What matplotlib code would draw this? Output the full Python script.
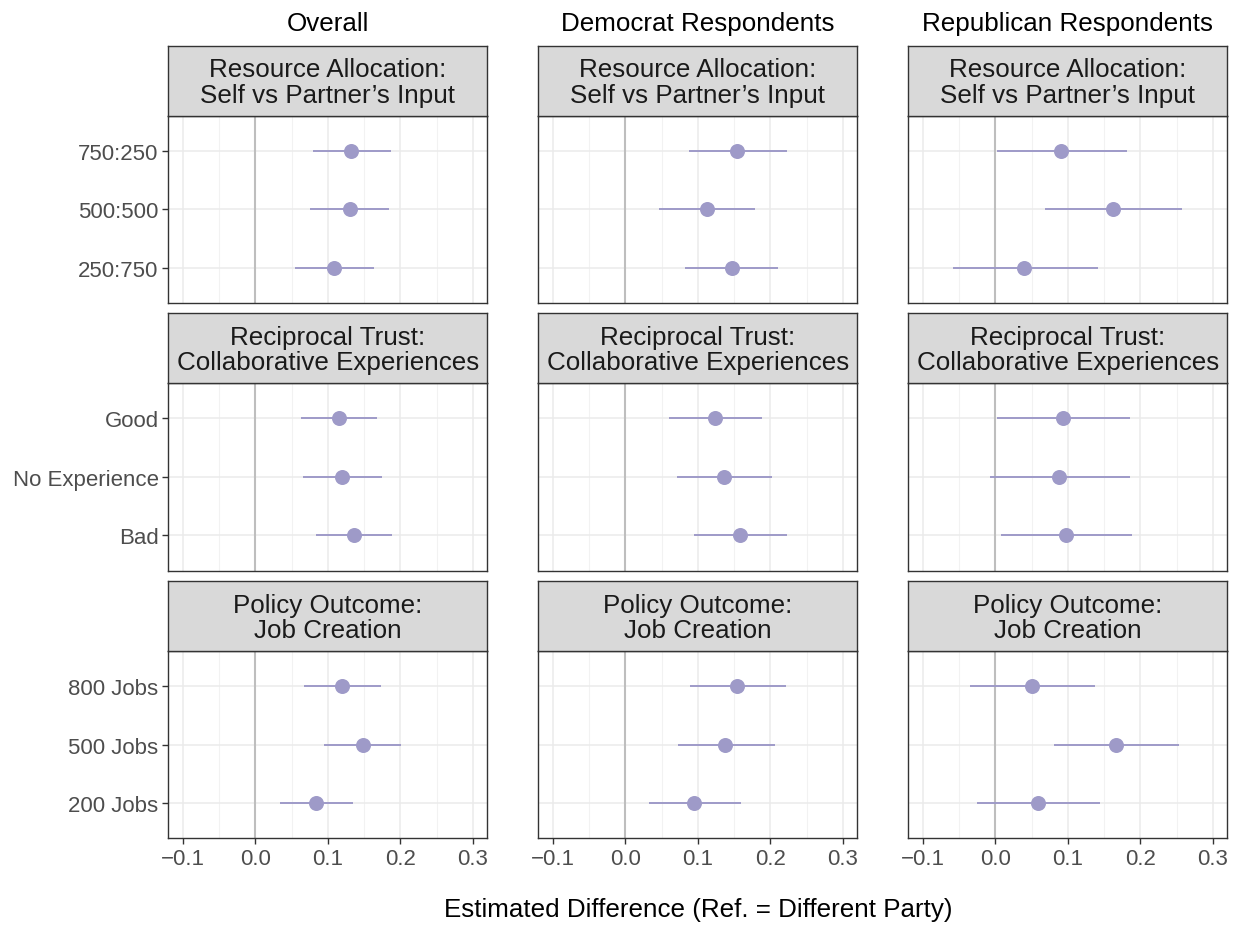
import matplotlib
matplotlib.use("Agg")
import matplotlib.pyplot as plt
import numpy as np

plt.rcParams['font.family'] = ['Liberation Sans', 'DejaVu Sans']

columns = ["Overall", "Democrat Respondents", "Republican Respondents"]
facets = ["Resource Allocation:\nSelf vs Partner\u2019s Input",
          "Reciprocal Trust:\nCollaborative Experiences",
          "Policy Outcome:\nJob Creation"]
# levels listed bottom -> top
levels = [["250:750", "500:500", "750:250"],
          ["Bad", "No Experience", "Good"],
          ["200 Jobs", "500 Jobs", "800 Jobs"]]

# estimates [row][col][level bottom->top]
est = [
    [[0.109, 0.130, 0.132], [0.147, 0.112, 0.154], [0.040, 0.162, 0.091]],
    [[0.136, 0.120, 0.115], [0.158, 0.136, 0.124], [0.097, 0.088, 0.093]],
    [[0.084, 0.148, 0.120], [0.095, 0.138, 0.154], [0.059, 0.167, 0.050]],
]
lo = [
    [[0.055, 0.076, 0.080], [0.083, 0.047, 0.088], [-0.058, 0.069, 0.002]],
    [[0.084, 0.066, 0.063], [0.095, 0.071, 0.060], [0.008, -0.007, 0.002]],
    [[0.034, 0.095, 0.067], [0.033, 0.072, 0.089], [-0.025, 0.081, -0.035]],
]
hi = [
    [[0.164, 0.185, 0.187], [0.211, 0.179, 0.223], [0.141, 0.258, 0.182]],
    [[0.189, 0.175, 0.168], [0.223, 0.203, 0.189], [0.188, 0.186, 0.186]],
    [[0.135, 0.201, 0.173], [0.159, 0.206, 0.221], [0.145, 0.254, 0.137]],
]

xticks = [-0.1, 0.0, 0.1, 0.2, 0.3]
xminor = [-0.05, 0.05, 0.15, 0.25]

W, H = 1241, 929
fig = plt.figure(figsize=(W / 100, H / 100), dpi=100)

col_left = [168.3, 538.3, 908.3]
col_w = 319.0
row_top = [116.7, 384.3, 652.0]
row_h = 187.3
strip_h = 70.0

pt_color = "#9E9AC8"
frame = "#333333"

for r in range(3):
    for c in range(3):
        l = col_left[c]
        t = row_top[r]
        ax = fig.add_axes([l / W, (H - t - row_h) / H, col_w / W, row_h / H])
        ax.set_xlim(-0.12, 0.32)
        ax.set_ylim(0.4, 3.6)
        ax.set_xticks(xticks)
        ax.set_xticks(xminor, minor=True)
        ax.set_yticks([1, 2, 3])
        ax.grid(True, which='major', color="#EBEBEB", linewidth=1.1, zorder=0)
        ax.grid(True, which='minor', axis='x', color="#F2F2F2", linewidth=0.8, zorder=0)
        ax.set_axisbelow(True)
        ax.axvline(0, color="#BEBEBE", linewidth=1.5, zorder=1)
        y = np.arange(1, 4)
        ax.hlines(y, lo[r][c], hi[r][c], color=pt_color, linewidth=1.4, zorder=2)
        ax.plot(est[r][c], y, 'o', color=pt_color, markersize=10.8, zorder=3,
                markeredgewidth=0)
        for s in ax.spines.values():
            s.set_color(frame)
            s.set_linewidth(1.0)
        ax.tick_params(which='major', length=4, width=1.0, color=frame,
                       labelsize=16, labelcolor="#4D4D4D", pad=3)
        ax.tick_params(which='minor', length=0)
        if c == 0:
            ax.set_yticklabels(levels[r])
        else:
            ax.tick_params(axis='y', length=0, labelleft=False)
        if r == 2:
            ax.set_xticklabels(["\u22120.1", "0.0", "0.1", "0.2", "0.3"])
        else:
            ax.tick_params(axis='x', length=0, labelbottom=False)

        # strip
        sax = fig.add_axes([l / W, (H - t) / H, col_w / W, strip_h / H])
        sax.set_facecolor("#D9D9D9")
        sax.set_xticks([])
        sax.set_yticks([])
        for s in sax.spines.values():
            s.set_color(frame)
            s.set_linewidth(1.0)
        sax.text(0.5, 0.48, facets[r], ha='center', va='center',
                 fontsize=18.7, color="#1A1A1A", transform=sax.transAxes,
                 linespacing=1.08)

for c in range(3):
    fig.text((col_left[c] + col_w / 2) / W, 1 - 24 / H, columns[c],
             ha='center', va='center', fontsize=18.7, color="black")

fig.text((col_left[1] + col_w / 2) / W, 1 - 910 / H,
         "Estimated Difference (Ref. = Different Party)",
         ha='center', va='center', fontsize=18.7, color="black")

fig.savefig("out.png", dpi=100)
